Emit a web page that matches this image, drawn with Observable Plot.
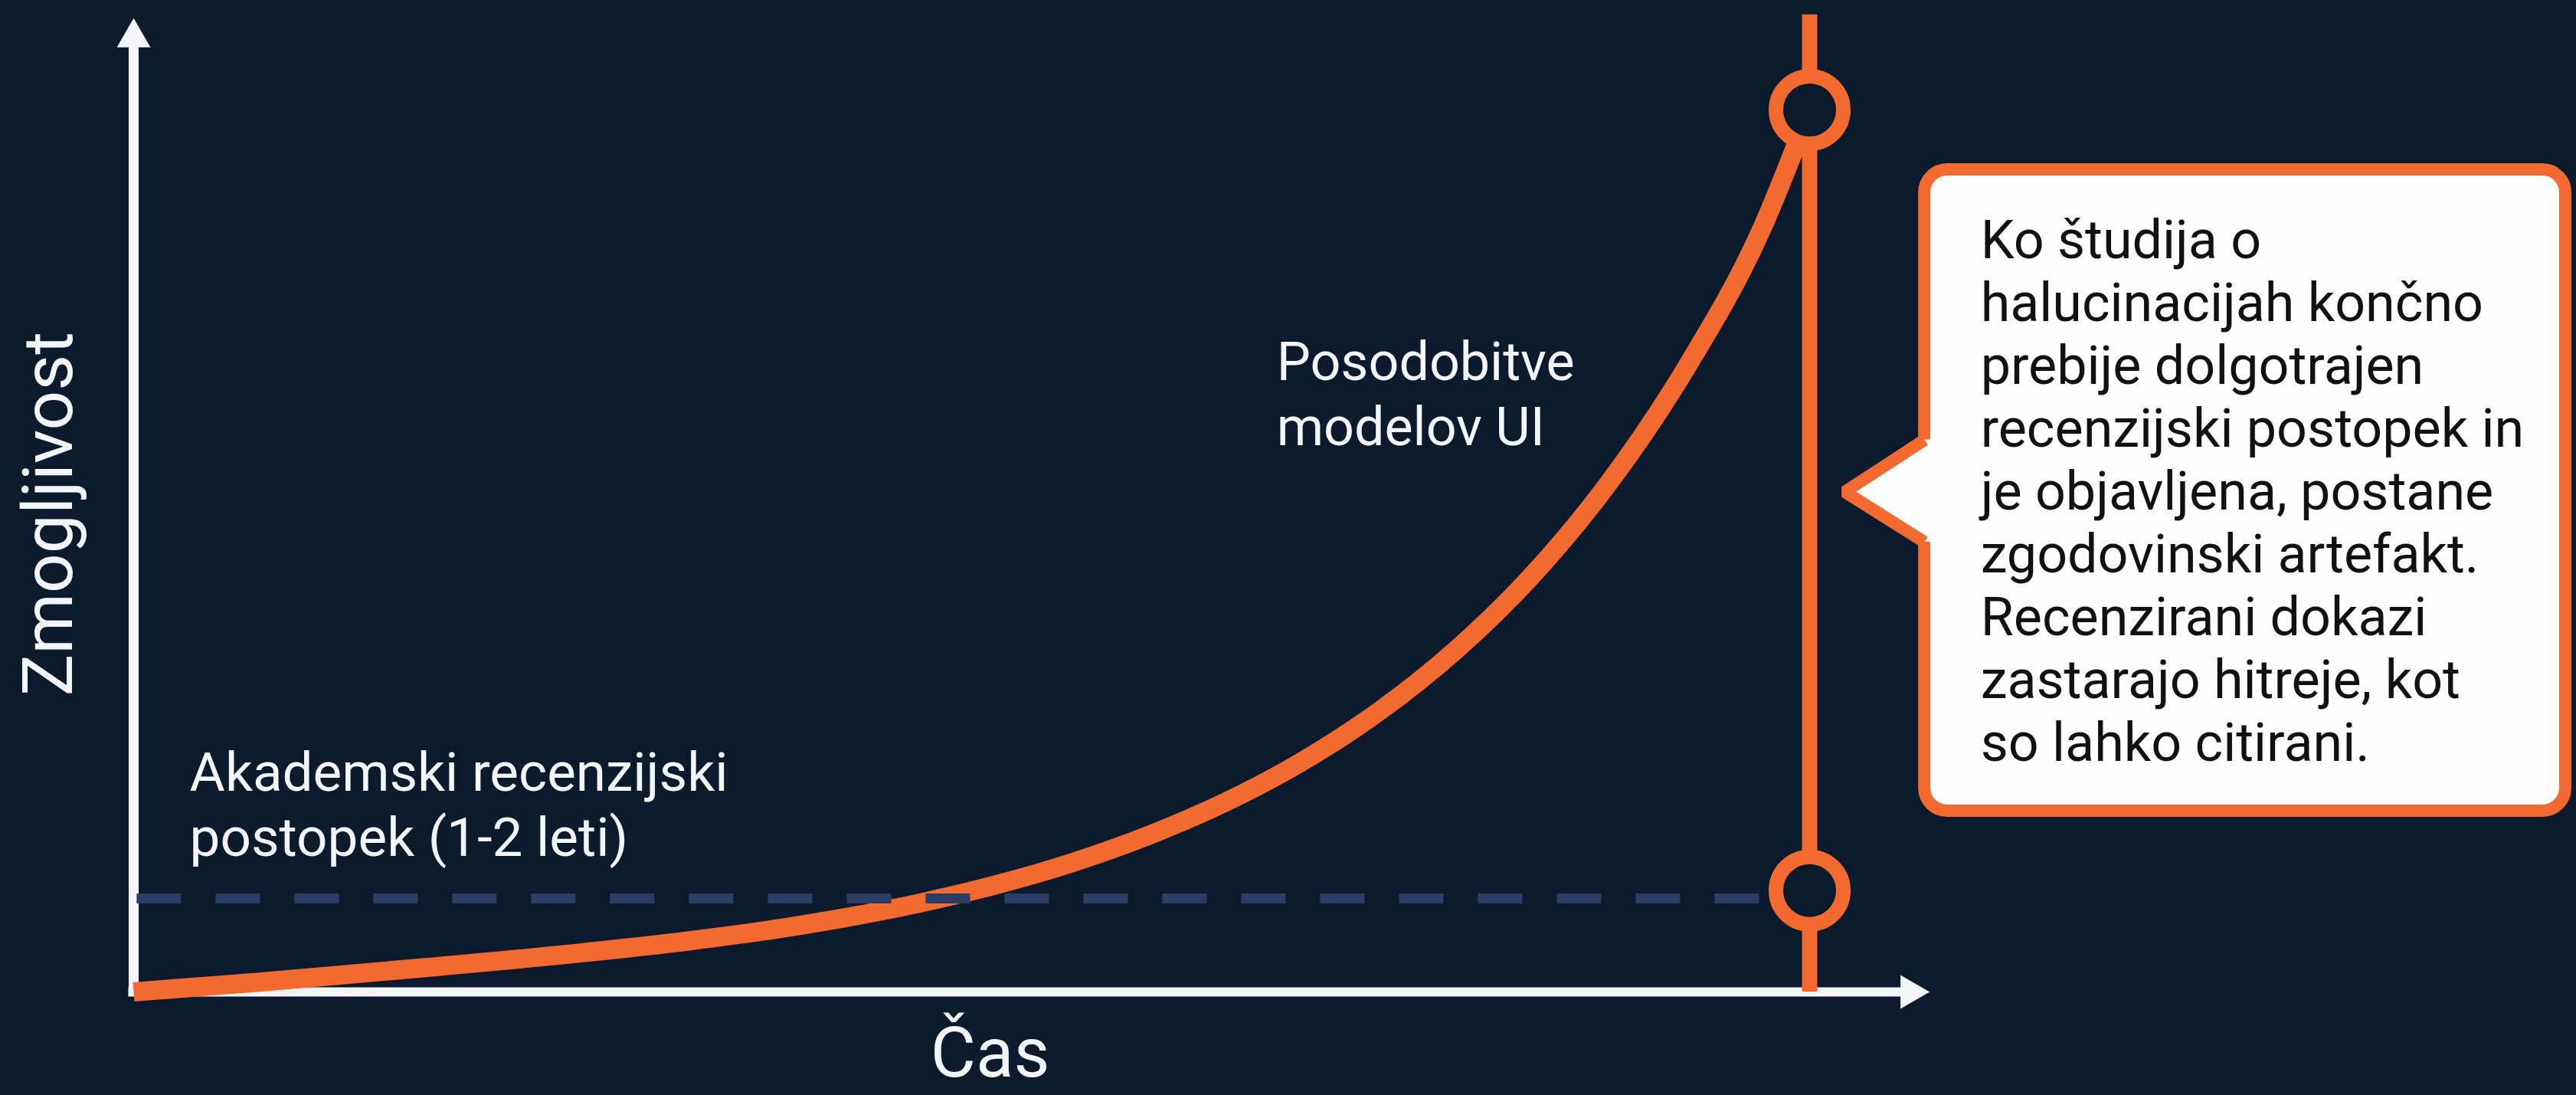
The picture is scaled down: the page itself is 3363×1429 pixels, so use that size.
<!DOCTYPE html>
<html>
<head>
<meta charset="utf-8">
<script src="https://cdn.jsdelivr.net/npm/d3@7"></script>
<script src="https://cdn.jsdelivr.net/npm/@observablehq/plot@0.6"></script>
<style>
  html, body { margin: 0; padding: 0; background: #0c1a2e; }
  #chart svg { display: block; }
</style>
</head>
<body>
<div id="chart"></div>
<script>
// ---- data (time 0..10, capability 0..100) ----
const timeX = [0, 0.763, 1.755, 3.318, 3.775, 4.232, 4.689, 5.146, 5.603, 6.060, 6.517, 6.974, 7.431, 7.888, 8.346, 8.803, 9.260, 9.717, 10];
const capabilityY = [0, 1.13, 2.78, 5.80, 6.96, 8.37, 10.07, 12.15, 14.68, 17.78, 21.54, 26.15, 31.81, 38.74, 47.26, 57.74, 70.65, 86.62, 100];
const peerReviewLevel = 10.6;
const peerReviewEnd = 9.7;
const markerTime = 10;
const markerPoints = [100, 11.5];

const yLabel = "Zmogljivost";
const xLabel = "Čas";
const peerLabel = "Akademski recenzijski\npostopek (1-2 leti)";
const aiLabel = "Posodobitve\nmodelov UI";
const calloutText = "Ko študija o\nhalucinacijah končno\nprebije dolgotrajen\nrecenzijski postopek in\nje objavljena, postane\nzgodovinski artefakt.\nRecenzirani dokazi\nzastarajo hitreje, kot\nso lahko citirani.";

// annotation anchors (data units)
const yLabelPos = {x: -0.50, y: 54.2};
const xLabelPos = {x: 5.11, y: -9.64};
const peerLabelPos = {x: 0.334, y: 15.4};
const aiLabelPos = {x: 6.82, y: 62.0};
const calloutBox = {x1: 10.686, x2: 14.511, y1: 20.5, y2: 93.22};
const calloutPointerX = [10.686, 10.21, 10.686];
const calloutPointerY = [62.6, 56.7, 51.0];
const calloutTextPos = {x: 11.02, y: 26.2};
const axisEnds = {xEnd: 10.55, yEnd: 107.2, xHead: 10.60, yHead: 108.2, lineTop: 110.8};

const BG = "#0c1a2e";
const ORANGE = "#f26a30";
const WHITE = "#f3f5f8";
const DASH = "#2b3d64";
const FONT = "Roboto, 'Noto Sans', sans-serif";

const curve = timeX.map((t, i) => ({t, c: capabilityY[i]}));
const pointer = calloutPointerX.map((x, i) => ({x, y: calloutPointerY[i]}));
const pointerFill = pointer.map(p => ({y: p.y, x1: p.x, x2: calloutPointerX[0] + 0.12}));

const chart = Plot.plot({
  width: 3363,
  height: 1429,
  marginLeft: 174,
  marginRight: 1001,
  marginTop: 143,
  marginBottom: 135,
  x: {domain: [0, 10], axis: null},
  y: {domain: [0, 100], axis: null},
  style: {background: BG, fontFamily: FONT, overflow: "visible"},
  marks: [
    // axes
    Plot.ruleY([0], {x1: -0.03, x2: axisEnds.xEnd, stroke: WHITE, strokeWidth: 12}),
    Plot.ruleX([0], {y1: -0.5, y2: axisEnds.yEnd, stroke: WHITE, strokeWidth: 13}),
    Plot.dot([{x: 0, y: axisEnds.yHead}], {x: "x", y: "y", symbol: "triangle", r: 16.3, fill: WHITE, stroke: "none"}),
    Plot.dot([{x: axisEnds.xHead, y: 0}], {x: "x", y: "y", symbol: "triangle", r: 16.3, rotate: 90, fill: WHITE, stroke: "none"}),
    // capability curve
    Plot.line(curve, {x: "t", y: "c", curve: "monotone-x", stroke: ORANGE, strokeWidth: 25, strokeLinecap: "butt"}),
    // peer review dashed level
    Plot.ruleY([peerReviewLevel], {x1: 0.02, x2: peerReviewEnd, stroke: DASH, strokeWidth: 13, strokeDasharray: "58,45"}),
    // vertical marker line
    Plot.ruleX([markerTime], {y1: 0, y2: axisEnds.lineTop, stroke: ORANGE, strokeWidth: 20}),
    Plot.dot(markerPoints, {x: () => markerTime, y: d => d, r: 44, stroke: ORANGE, strokeWidth: 19, fill: BG}),
    // labels
    Plot.text([yLabel], {x: () => yLabelPos.x, y: () => yLabelPos.y, text: d => d, rotate: -90, fontSize: 91, fill: WHITE, textAnchor: "middle"}),
    Plot.text([xLabel], {x: () => xLabelPos.x, y: () => xLabelPos.y, text: d => d, fontSize: 91, fill: WHITE, textAnchor: "middle", lineAnchor: "bottom"}),
    Plot.text([peerLabel], {x: () => peerLabelPos.x, y: () => peerLabelPos.y, text: d => d, fontSize: 71, lineHeight: 1.2, fill: WHITE, textAnchor: "start", lineAnchor: "bottom"}),
    Plot.text([aiLabel], {x: () => aiLabelPos.x, y: () => aiLabelPos.y, text: d => d, fontSize: 70, lineHeight: 1.214, fill: WHITE, textAnchor: "start", lineAnchor: "bottom"}),
    // callout
    Plot.rect([calloutBox], {x1: "x1", x2: "x2", y1: "y1", y2: "y2", fill: "#fefefe", stroke: ORANGE, strokeWidth: 16, rx: 30,
      style: "filter: drop-shadow(0px 6px 8px rgba(0,0,0,0.55))"}),
    Plot.areaX(pointerFill, {y: "y", x1: "x1", x2: "x2", fill: "#fefefe", curve: "linear"}),
    Plot.line(pointer, {x: "x", y: "y", stroke: ORANGE, strokeWidth: 16, strokeLinejoin: "miter", strokeLinecap: "butt", curve: "linear"}),
    Plot.text([calloutText], {x: () => calloutTextPos.x, y: () => calloutTextPos.y, text: d => d, fontSize: 70, lineHeight: 1.171, fill: "#111111", textAnchor: "start", lineAnchor: "bottom"})
  ]
});
document.getElementById("chart").appendChild(chart);
</script>
</body>
</html>
